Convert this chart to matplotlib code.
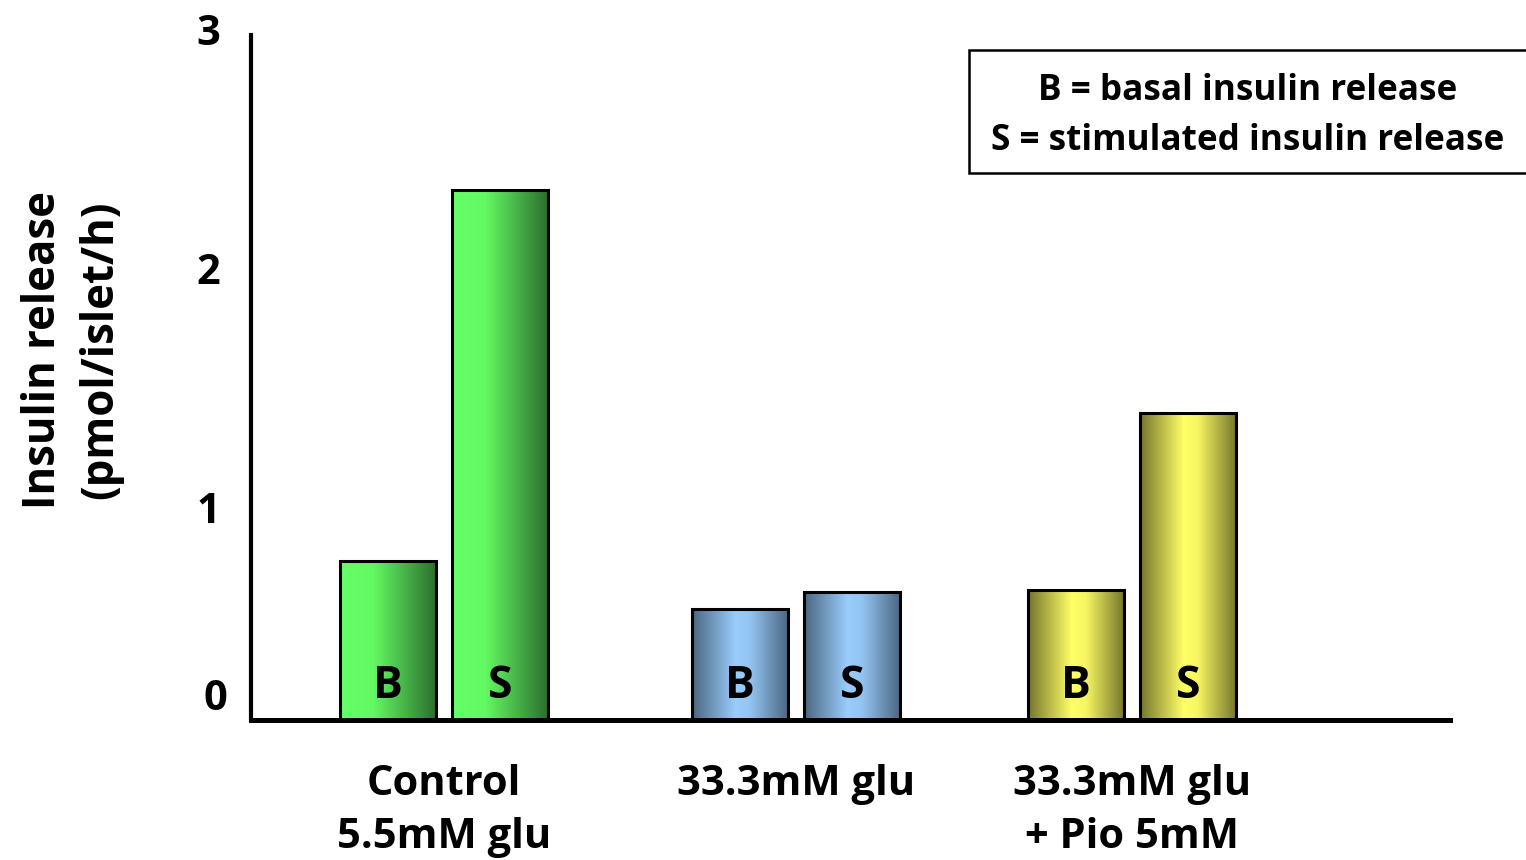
import numpy as np
import matplotlib.pyplot as plt
import matplotlib.transforms as mtransforms
from matplotlib.colors import LinearSegmentedColormap
from matplotlib.patches import Rectangle

plt.rcParams['font.family'] = ['Open Sans', 'DejaVu Sans']
plt.rcParams['font.weight'] = 'bold'

groups = ['Control\n5.5mM glu', '33.3mM glu', '33.3mM glu\n+ Pio 5mM']
basal = [0.80, 0.60, 0.68]
stimulated = [2.35, 0.67, 1.42]
bar_labels = ['B', 'S']

# horizontal shading per group
cmaps = [
    LinearSegmentedColormap.from_list('g', [(0, '#66ff66'), (0.35, '#62f862'), (1, '#2c6c2c')]),
    LinearSegmentedColormap.from_list('b', [(0, '#4b6580'), (0.45, '#9acdfc'), (0.6, '#93c4f2'), (1, '#4b6580')]),
    LinearSegmentedColormap.from_list('y', [(0, '#74742c'), (0.45, '#ffff66'), (0.6, '#f6f662'), (1, '#74742c')]),
]

fig = plt.figure(figsize=(15.26, 8.6), dpi=100)
ax = fig.add_axes([251 / 1526, 140 / 860, 1199 / 1526, 685 / 860])

x = np.array([0.0, 1.0, 1.955])
width = 0.273
off = 0.159
ybot, ytop = 0.134, 3.0

grad = np.linspace(0, 1, 256).reshape(1, -1)
for i in range(len(groups)):
    for j, val in enumerate([basal[i], stimulated[i]]):
        xc = x[i] + (j * 2 - 1) * off
        ax.bar(xc, val - ybot, width, bottom=ybot, color='none',
               edgecolor='black', linewidth=2.2, zorder=3)
        ax.imshow(grad, cmap=cmaps[i], aspect='auto', zorder=2,
                  extent=[xc - width / 2, xc + width / 2, ybot, val])
        ax.text(xc, ybot + 0.14, bar_labels[j], ha='center', va='center',
                fontsize=32, fontweight='bold', zorder=4)

ax.set_xlim(-0.548, 2.858)
ax.set_ylim(ybot, ytop)

for s in ['top', 'right']:
    ax.spines[s].set_visible(False)
ax.spines['left'].set_linewidth(3)
ax.spines['bottom'].set_linewidth(3.6)

ax.set_yticks([1, 2, 3])
ax.set_yticklabels(['1', '2', '3'], fontsize=30, fontweight='bold')
ax.tick_params(axis='y', length=0, pad=22)
lift = mtransforms.ScaledTranslation(0, 6 / 100, fig.dpi_scale_trans)
for lbl in ax.get_yticklabels():
    lbl.set_transform(lbl.get_transform() + lift)
ax.text(-0.030, ybot + 0.084, '0', transform=ax.get_yaxis_transform(),
        ha='center', va='center', fontsize=30, fontweight='bold')

ax.set_xticks(x)
ax.set_xticklabels(groups, fontsize=30, fontweight='bold', linespacing=1.37)
ax.tick_params(axis='x', length=0, pad=32)

fig.text(72 / 1526, 1 - 350 / 860, 'Insulin release\n(pmol/islet/h)',
         rotation=90, ha='center', va='center', fontsize=31.5, fontweight='bold',
         linespacing=1.36)

# key box
fig.patches.append(Rectangle((969 / 1526, 1 - 173 / 860), 0.5, 123 / 860,
                             transform=fig.transFigure, facecolor='white',
                             edgecolor='black', linewidth=1.8))
fig.text(1248 / 1526, 1 - 91 / 860, 'B = basal insulin release', ha='center',
         va='center', fontsize=25.3, fontweight='bold')
fig.text(1248 / 1526, 1 - 141 / 860, 'S = stimulated insulin release', ha='center',
         va='center', fontsize=25.3, fontweight='bold')

fig.savefig('out.png', dpi=100)
